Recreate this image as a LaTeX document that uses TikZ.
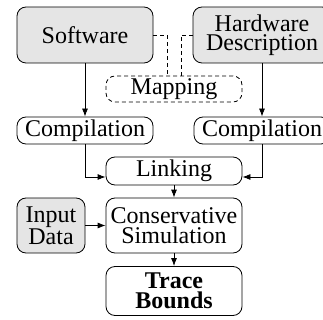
\documentclass[tikz,border=0pt]{standalone}
\usepackage{fontspec}
\setmainfont{Liberation Serif}
\usetikzlibrary{arrows.meta}
\begin{document}
\begin{tikzpicture}[
  x=1pt,y=-1pt,
  font=\fontsize{24}{19.5}\selectfont,
  box/.style={draw, line width=0.8pt, rounded corners=9pt, align=center, inner sep=0pt, minimum width=136pt, minimum height=27pt},
  shaded/.style={box, fill=gray!20},
  flow/.style={-{Latex[length=8pt,width=6pt]}, line width=0.8pt}
]
\useasboundingbox (0,0) rectangle (323,320);

\node[shaded, minimum height=56pt] (software) at (85,35) {Software};
\node[shaded, minimum width=138pt, minimum height=56pt] (hardware) at (262,35) {Hardware\\Description};
\node[box, dashed, dash pattern=on 4pt off 3pt, minimum height=26pt] (mapping) at (174,89) {Mapping};

\node[box] (compsw) at (85,130.5) {Compilation};
\node[box] (comphw) at (262,130.5) {Compilation};
\node[box, minimum height=28pt] (linking) at (174,171) {Linking};

\node[shaded, minimum width=68pt, minimum height=55pt] (input) at (51,225.5) {Input\\Data};
\node[box, minimum height=55pt] (simulation) at (174,225.5) {Conservative\\Simulation};
\node[box, minimum height=49pt, font=\fontsize{24}{19.5}\selectfont\bfseries] (bounds) at (174,291) {Trace\\Bounds};

% mapping ties software and hardware together
\draw[dashed, dash pattern=on 4pt off 3pt, line width=0.8pt] (software) -| ([xshift=-7pt]mapping.north);
\draw[dashed, dash pattern=on 4pt off 3pt, line width=0.8pt] (hardware) -| ([xshift=7pt]mapping.north);

\draw[flow] (software) -- (compsw);
\draw[flow] (hardware) -- (comphw);
\draw[flow] (compsw) |- ([yshift=-6pt]linking.west);
\draw[flow] (comphw) |- ([yshift=-6pt]linking.east);
\draw[flow] (linking) -- (simulation);
\draw[flow] (input) -- (simulation);
\draw[flow] (simulation) -- (bounds);
\end{tikzpicture}
\end{document}
